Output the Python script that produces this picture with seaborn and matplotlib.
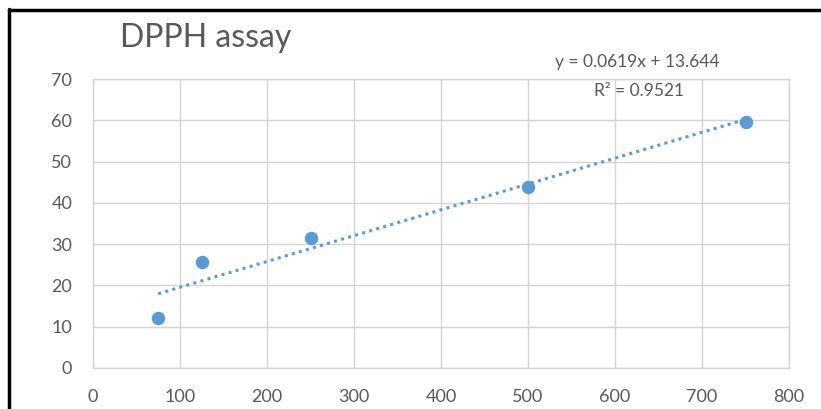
import numpy as np
import pandas as pd
import matplotlib.pyplot as plt
from matplotlib.lines import Line2D
import seaborn as sns

# concentration vs % inhibition
conc = [75, 125, 250, 500, 750]
inhibition = [12.0, 25.7, 31.6, 43.9, 59.6]
x_ticks = [0, 100, 200, 300, 400, 500, 600, 700, 800]
y_ticks = [0, 10, 20, 30, 40, 50, 60, 70]

df = pd.DataFrame({'conc': conc, 'inhibition': inhibition})

sns.set_style('white')
plt.rcParams['font.family'] = ['Lato', 'DejaVu Sans']

grey = '#595959'
blue = '#5B9BD5'

fig = plt.figure(figsize=(8.21, 4.09), dpi=100)
ax = fig.add_axes([93 / 821, 1 - 368 / 409, 696 / 821, 289 / 409])

sns.regplot(data=df, x='conc', y='inhibition', ax=ax, ci=None,
            scatter_kws={'s': 75, 'color': blue, 'edgecolor': blue, 'alpha': 1, 'zorder': 3},
            line_kws={'color': blue, 'lw': 2.2, 'linestyle': (0, (1, 1.4)), 'zorder': 2})

ax.set_xlim(0, 800)
ax.set_ylim(0, 70)
ax.set_xticks(x_ticks)
ax.set_yticks(y_ticks)
ax.set_xlabel('')
ax.set_ylabel('')
ax.grid(True, color='#D4D4D4', lw=1)
ax.set_axisbelow(True)
for s in ax.spines.values():
    s.set_color('#D4D4D4')
    s.set_linewidth(1)
ax.tick_params(axis='both', length=0, labelsize=13, colors=grey)
ax.tick_params(axis='y', pad=15)
ax.tick_params(axis='x', pad=15)

fig.text(206 / 821, 1 - 38 / 409, 'DPPH assay', fontsize=23, color=grey,
         ha='center', va='center')
fig.text(637 / 821, 1 - 62 / 409, 'y = 0.0619x + 13.644', fontsize=12.5, color=grey,
         ha='center', va='center')
fig.text(639 / 821, 1 - 91 / 409, 'R² = 0.9521', fontsize=12.5, color=grey,
         ha='center', va='center')

# black frame edge visible at the left and top of the screenshot
fig.add_artist(Line2D([9 / 821, 9 / 821], [0, 1 - 9 / 409], color='black', lw=2.5,
                      transform=fig.transFigure))
fig.add_artist(Line2D([9 / 821, 1], [1 - 10 / 409, 1 - 10 / 409], color='black', lw=2.5,
                      transform=fig.transFigure))

fig.savefig('out.png', dpi=100)
